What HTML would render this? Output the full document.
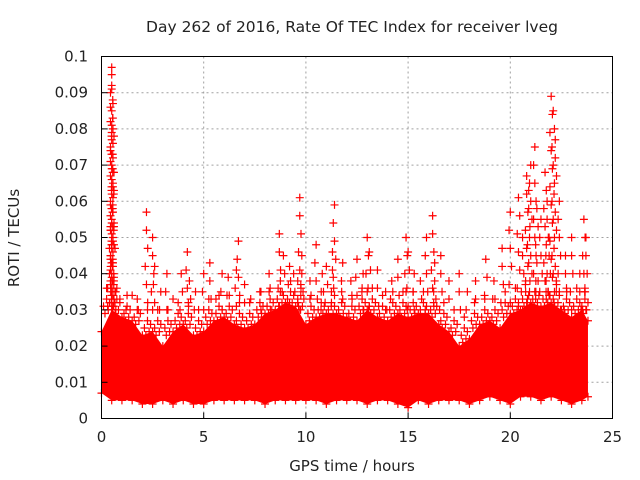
<!DOCTYPE html>
<html><head><meta charset="utf-8"><style>
body{margin:0;background:#fff}
svg{display:block;font-family:"DejaVu Sans","Liberation Sans",sans-serif}
</style></head><body>
<svg id="chart" width="640" height="480" viewBox="0 0 640 480">
<rect width="640" height="480" fill="#fff"/>
<text x="352" y="32" font-size="15.5" text-anchor="middle" fill="#222">Day 262 of 2016, Rate Of TEC Index for receiver lveg</text>
<text x="352" y="471" font-size="15" text-anchor="middle" fill="#222">GPS time / hours</text>
<text transform="translate(19,238) rotate(-90)" font-size="15" text-anchor="middle" fill="#222">ROTI / TECUs</text>
<g id="grid"></g>
<g id="marks"></g>
<rect x="101.5" y="56.5" width="511" height="362" fill="none" stroke="#000" stroke-width="1"/>
<g id="ticks"></g>
</svg>
<script>
const xTicks=[0,5,10,15,20,25];
const yTicks=[0,0.01,0.02,0.03,0.04,0.05,0.06,0.07,0.08,0.09,0.1];
const yTickLabels=["0","0.01","0.02","0.03","0.04","0.05","0.06","0.07","0.08","0.09","0.1"];
const binTimes=[0,0.5,1,1.5,2,2.5,3,3.5,4,4.5,5,5.5,6,6.5,7,7.5,8,8.5,9,9.5,10,10.5,11,11.5,12,12.5,13,13.5,14,14.5,15,15.5,16,16.5,17,17.5,18,18.5,19,19.5,20,20.5,21,21.5,22,22.5,23,23.5,23.8];
const bandLow=[0.007,0.005,0.005,0.005,0.004,0.004,0.005,0.004,0.005,0.004,0.004,0.005,0.005,0.005,0.005,0.005,0.004,0.005,0.005,0.005,0.005,0.005,0.004,0.005,0.005,0.005,0.004,0.005,0.005,0.004,0.003,0.005,0.004,0.005,0.005,0.005,0.004,0.005,0.006,0.005,0.004,0.006,0.006,0.005,0.006,0.005,0.004,0.005,0.006];
const bandHigh=[0.024,0.03,0.028,0.027,0.023,0.024,0.02,0.024,0.026,0.023,0.024,0.027,0.028,0.026,0.025,0.026,0.029,0.03,0.032,0.031,0.026,0.028,0.029,0.029,0.028,0.027,0.03,0.028,0.027,0.029,0.028,0.029,0.029,0.026,0.024,0.02,0.022,0.026,0.027,0.025,0.029,0.03,0.032,0.031,0.032,0.03,0.028,0.03,0.027];
const outT=[0.3,0.45,0.5,0.5,0.5,0.55,0.55,0.5,0.55,0.6,0.5,0.45,0.6,0.7,0.9,1.2,1.5,1.8,2.2,2.5,2.6,2.9,3.2,3.5,3.9,4.2,4.3,4.6,5.0,5.3,5.6,5.9,6.2,6.6,6.7,7.0,7.3,7.8,8.2,8.7,8.9,9.2,9.4,9.6,9.7,9.8,10.2,10.5,10.8,11.0,11.3,11.4,11.8,12.2,12.5,12.8,13.0,13.1,13.5,13.9,14.2,14.5,14.9,15.0,15.3,15.6,15.9,16.2,16.3,16.6,17.0,17.5,17.9,18.3,18.8,19.2,19.6,20.0,20.4,20.6,20.8,20.9,21.0,21.2,21.3,21.5,21.7,21.8,21.9,22.0,22.1,22.2,22.4,22.7,23.0,23.4,23.6,23.7];
const outV=[0.036,0.052,0.097,0.095,0.091,0.088,0.083,0.079,0.069,0.062,0.058,0.045,0.04,0.035,0.033,0.03,0.034,0.03,0.057,0.05,0.042,0.035,0.04,0.033,0.04,0.046,0.038,0.035,0.04,0.043,0.033,0.04,0.039,0.041,0.049,0.037,0.033,0.035,0.04,0.051,0.045,0.042,0.04,0.038,0.061,0.045,0.038,0.048,0.04,0.042,0.046,0.059,0.043,0.038,0.044,0.04,0.05,0.046,0.041,0.035,0.038,0.044,0.05,0.046,0.04,0.038,0.05,0.056,0.043,0.045,0.038,0.04,0.035,0.038,0.044,0.038,0.047,0.057,0.061,0.05,0.067,0.063,0.07,0.075,0.058,0.055,0.068,0.06,0.05,0.089,0.085,0.077,0.06,0.045,0.05,0.04,0.055,0.05];
const X=t=>101.5+t/25*511, Y=v=>418.5-v/0.1*362;
const NS="http://www.w3.org/2000/svg";
function mk(tag,attrs,parent){const e=document.createElementNS(NS,tag);for(const k in attrs)e.setAttribute(k,attrs[k]);parent.appendChild(e);return e;}
const grid=document.getElementById('grid'),ticks=document.getElementById('ticks'),marks=document.getElementById('marks');
xTicks.forEach(t=>{
 if(t>0&&t<25){const g=mk('line',{x1:X(t),x2:X(t),y1:56.5,y2:418.5,stroke:'#a0a0a0','stroke-dasharray':'2,3'},grid);
 
 }
 const l=mk('line',{x1:X(t),x2:X(t),y1:418.5,y2:412.5,stroke:'#000'},ticks);
 
 
 const tx=mk('text',{x:X(t),y:442,'font-size':15,'text-anchor':'middle',fill:'#222'},ticks);tx.textContent=t;
 
 
});
yTicks.forEach((v,i)=>{
 if(i>0&&i<yTicks.length-1){const g=mk('line',{x1:101.5,x2:612.5,y1:Y(v),y2:Y(v),stroke:'#a0a0a0','stroke-dasharray':'2,3'},grid);
 
 }
 const l=mk('line',{x1:101.5,x2:107.5,y1:Y(v),y2:Y(v),stroke:'#000'},ticks);
 
 
 const tx=mk('text',{x:88,y:Y(v)+5,'font-size':15,'text-anchor':'end',fill:'#222'},ticks);tx.textContent=yTickLabels[i];
 
 
});
let pts=binTimes.map((t,i)=>X(t)+','+Y(bandHigh[i])).join(' ')+' '+binTimes.slice().reverse().map((t,j)=>{const i=binTimes.length-1-j;return X(t)+','+Y(bandLow[i]);}).join(' ');
const band=mk('polygon',{points:pts,fill:'#ff0000'},marks);


function cross(t,v,name){const p=mk('path',{d:`M${X(t)-4},${Y(v)}h8M${X(t)},${Y(v)-4}v8`,stroke:'#ff0000','stroke-width':1.2},marks);
 
 }
binTimes.forEach((t,i)=>{cross(t,bandHigh[i],'band-edge-point');cross(t,bandLow[i],'band-edge-point');});
for(let i=0;i<binTimes.length-1;i++){
 const tm=(binTimes[i]+binTimes[i+1])/2, vm=Math.max(bandHigh[i],bandHigh[i+1]);
 cross(tm,vm+0.003,'band-top-point');
 cross(tm-0.15,vm+0.001,'band-top-point');
 cross(tm+0.15,vm+0.002,'band-top-point');
 cross(tm-0.08,vm-0.001,'band-top-point');
 cross(tm+0.08,vm+0.0,'band-top-point');
 cross(tm,vm+0.006,'band-top-point');
}
outT.forEach((t,i)=>{
 cross(t,outV[i],'roti-point');
 let v=outV[i]-0.005;
 while(v>0.03){cross(t+(((i+Math.round(v*1000))%3)-1)*0.06,v,'roti-point-trail');v-=0.005;}
});
</script>
</body></html>
